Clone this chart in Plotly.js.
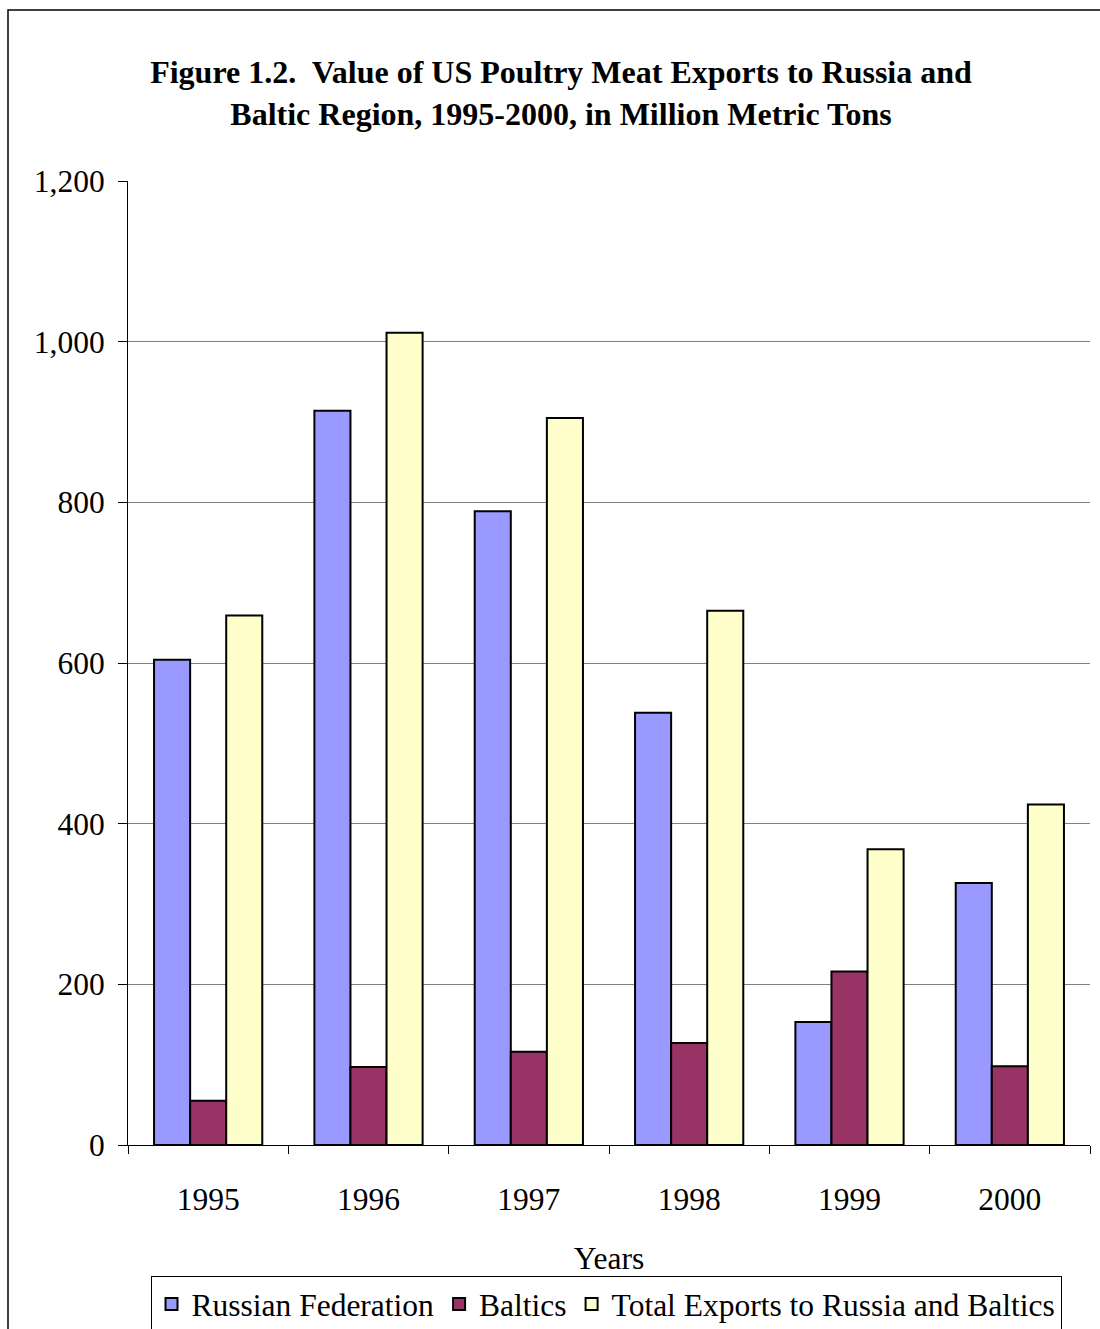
<!DOCTYPE html>
<html>
<head>
<meta charset="utf-8">
<script src="https://cdn.plot.ly/plotly-3.0.1.min.js"></script>
<style>
  html, body { margin: 0; padding: 0; background: #fff; }
  #chart { width: 1100px; height: 1329px; }
</style>
</head>
<body>
<div id="chart"></div>
<script>
const years = ["1995", "1996", "1997", "1998", "1999", "2000"];
const russianFederation = [604, 914, 789, 538, 153, 326];
const baltics = [55, 97, 116, 127, 216, 98];
const totalExports = [659, 1011, 905, 665, 368, 424];
const yTicks = [0, 200, 400, 600, 800, 1000, 1200];
const gridTicks = [200, 400, 600, 800, 1000];
const yTickText = ["0", "200", "400", "600", "800", "1,000", "1,200"];

const FONT = "Liberation Serif, Times New Roman, serif";
const outline = { color: "#000000", width: 2 };

const traces = [
  { type: "bar", name: "Russian Federation", x: years, y: russianFederation,
    marker: { color: "#9999FF", line: outline } },
  { type: "bar", name: "Baltics", x: years, y: baltics,
    marker: { color: "#993366", line: outline } },
  { type: "bar", name: "Total Exports to Russia and Baltics", x: years, y: totalExports,
    marker: { color: "#FFFFCC", line: outline } },
  // invisible trace to activate the grid axis
  { type: "scatter", x: years, y: [null, null, null, null, null, null], yaxis: "y2",
    showlegend: false, hoverinfo: "skip", mode: "markers" }
];

const layout = {
  width: 1100,
  height: 1329,
  margin: { l: 128, r: 10, t: 181, b: 184, autoexpand: false },
  paper_bgcolor: "#ffffff",
  plot_bgcolor: "rgba(0,0,0,0)",
  font: { family: FONT, color: "#000000", size: 32 },
  title: {
    text: "<b>Figure 1.2.  Value of US Poultry Meat Exports to Russia and<br>Baltic Region, 1995-2000, in Million Metric Tons</b>",
    font: { family: FONT, size: 32, color: "#000000" },
    x: 0.51, xanchor: "center", xref: "container",
    y: 1 - 83 / 1329, yanchor: "top", yref: "container"
  },
  barmode: "group",
  bargap: 0.325,
  bargroupgap: 0,
  xaxis: {
    type: "category",
    automargin: false,
    showline: true, linecolor: "#000000", linewidth: 1,
    ticks: "outside", ticklen: 8, tickcolor: "#000000", tickwidth: 1,
    tickson: "boundaries",
    showgrid: false,
    ticklabelstandoff: 26,
    tickfont: { family: FONT, size: 31.5 },
    title: { text: "Years", font: { family: FONT, size: 31.5 }, standoff: 43 },
    fixedrange: true
  },
  yaxis: {
    range: [0, 1200],
    automargin: false,
    tickvals: yTicks, ticktext: yTickText,
    showline: true, linecolor: "#000000", linewidth: 1,
    ticks: "outside", ticklen: 9, tickcolor: "#000000", tickwidth: 1,
    showgrid: false, zeroline: false,
    ticklabelstandoff: 7,
    tickfont: { family: FONT, size: 31.5 },
    fixedrange: true
  },
  yaxis2: {
    overlaying: "y", range: [0, 1200],
    automargin: false,
    tickvals: gridTicks,
    showticklabels: false, ticks: "",
    showgrid: true, gridcolor: "#808080", gridwidth: 1,
    zeroline: false, showline: false,
    fixedrange: true
  },
  showlegend: true,
  legend: {
    orientation: "h",
    xref: "container", yref: "container",
    x: 606 / 1100, xanchor: "center",
    y: 1 - 1276 / 1329, yanchor: "top",
    bordercolor: "#000000", borderwidth: 1,
    bgcolor: "#ffffff",
    font: { family: FONT, size: 31.5 },
    itemwidth: 30,
    traceorder: "normal"
  },
  shapes: [
    { type: "rect", xref: "paper", yref: "paper",
      x0: (8 - 128) / 962, x1: 1.2,
      y0: -0.4, y1: (1145 - 10) / 964,
      line: { color: "#000000", width: 1.5 }, layer: "below" }
  ]
};

Plotly.newPlot("chart", traces, layout, { staticPlot: true, displayModeBar: false });
</script>
</body>
</html>
